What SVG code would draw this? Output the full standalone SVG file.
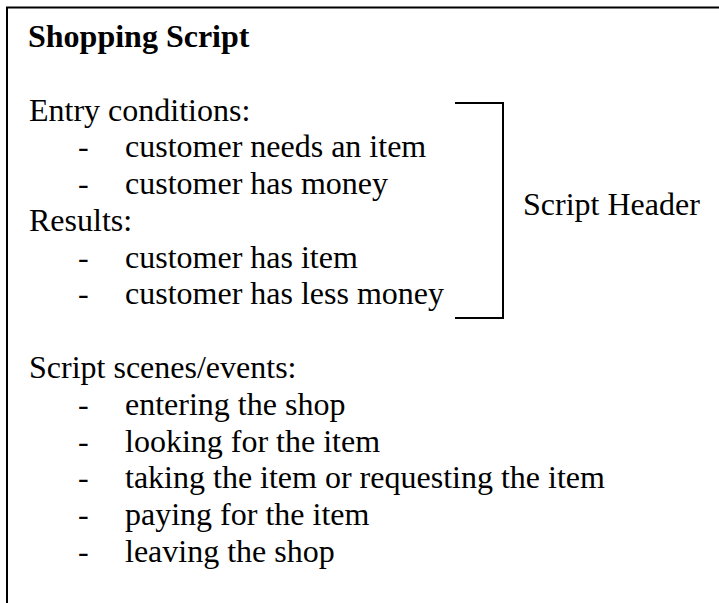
<svg xmlns="http://www.w3.org/2000/svg" width="719" height="603" viewBox="0 0 719 603">
  <style>
    text { font-family: "Liberation Serif", "Times New Roman", serif; font-size: 32px; fill: #000; }
    .title { font-weight: bold; }
    .line { stroke: #000; stroke-width: 2; fill: none; }
  </style>
  <rect width="719" height="603" fill="#fff"/>

  <!-- outer frame: top and left edges only -->
  <g id="frame">
    <path class="line" d="M7,603 V7.5 H719"/>
  </g>

  <g id="script-text">
    <text class="title" x="28" y="47">Shopping Script</text>

    <text x="29" y="121">Entry conditions:</text>
    <text x="78" y="157">-</text><text x="125" y="157">customer needs an item</text>
    <text x="78" y="194">-</text><text x="125" y="194">customer has money</text>

    <text x="29" y="231">Results:</text>
    <text x="78" y="268">-</text><text x="125" y="268">customer has item</text>
    <text x="78" y="304">-</text><text x="125" y="304">customer has less money</text>

    <text x="29" y="378">Script scenes/events:</text>
    <text x="78" y="415">-</text><text x="125" y="415">entering the shop</text>
    <text x="78" y="452">-</text><text x="125" y="452">looking for the item</text>
    <text x="78" y="488">-</text><text x="125" y="488">taking the item or requesting the item</text>
    <text x="78" y="525">-</text><text x="125" y="525">paying for the item</text>
    <text x="78" y="562">-</text><text x="125" y="562">leaving the shop</text>
  </g>

  <!-- bracket grouping the header lines -->
  <g id="header-bracket">
    <path class="line" d="M455,103 H503 V318 H455"/>
    <text x="523" y="215">Script Header</text>
  </g>
</svg>
